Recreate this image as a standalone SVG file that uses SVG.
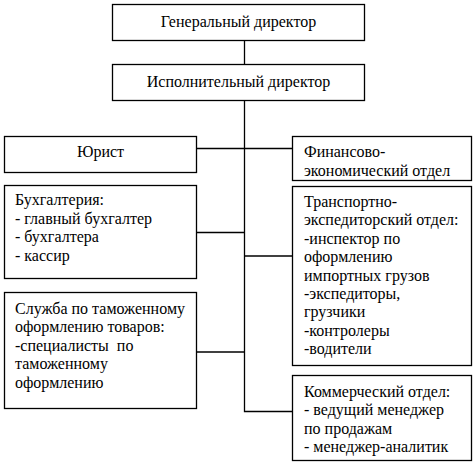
<svg xmlns="http://www.w3.org/2000/svg" width="476" height="465" viewBox="0 0 476 465">
<style>
.box{fill:#fff;stroke:#000;stroke-width:1.3}
.ln{stroke:#000;stroke-width:1.3;fill:none}
.t{font-family:"Liberation Serif","Times New Roman",serif;font-size:16px;fill:#000}
.c{text-anchor:middle}
</style>
<rect width="476" height="465" fill="#fff"/>
<g id="connectors">
<line class="ln" x1="244.5" y1="40" x2="244.5" y2="64"/>
<polyline class="ln" points="244.5,100 244.5,411.5 292.5,411.5"/>
<line class="ln" x1="196.5" y1="148.5" x2="292.5" y2="148.5"/>
<line class="ln" x1="196.5" y1="232.5" x2="244.5" y2="232.5"/>
<line class="ln" x1="244.5" y1="256" x2="292.5" y2="256"/>
<line class="ln" x1="196.5" y1="352" x2="244.5" y2="352"/>
</g>
<g id="gen"><rect class="box" x="112.5" y="4.5" width="252" height="36"/><text class="t c" x="238.5" y="27">Генеральный директор</text></g>
<g id="isp"><rect class="box" x="112.5" y="64.5" width="252" height="36"/><text class="t c" x="238.5" y="87">Исполнительный директор</text></g>
<g id="jur"><rect class="box" x="4.5" y="136.5" width="192" height="36"/><text class="t c" x="100.5" y="157">Юрист</text></g>
<g id="buh"><rect class="box" x="4.5" y="185.5" width="192" height="93"/>
<text class="t" x="15" y="205">Бухгалтерия:</text>
<text class="t" x="15" y="223.5">- главный бухгалтер</text>
<text class="t" x="15" y="242">- бухгалтера</text>
<text class="t" x="15" y="260.5">- кассир</text></g>
<g id="tam"><rect class="box" x="4.5" y="292.5" width="192" height="116"/>
<text class="t" x="15" y="313.5">Служба по таможенному</text>
<text class="t" x="15" y="332">оформлению товаров:</text>
<text class="t" x="15" y="350.5" xml:space="preserve">-специалисты  по</text>
<text class="t" x="15" y="369">таможенному</text>
<text class="t" x="15" y="387.5">оформлению</text></g>
<g id="fin"><rect class="box" x="292.5" y="136.5" width="179" height="44"/>
<text class="t" x="304" y="157">Финансово-</text>
<text class="t" x="304" y="175.5">экономический отдел</text></g>
<g id="trans"><rect class="box" x="292.5" y="186.5" width="179" height="179"/>
<text class="t" x="304" y="207">Транспортно-</text>
<text class="t" x="304" y="225.4">экспедиторский отдел:</text>
<text class="t" x="304" y="243.8">-инспектор по</text>
<text class="t" x="304" y="262.2">оформлению</text>
<text class="t" x="304" y="280.6">импортных грузов</text>
<text class="t" x="304" y="299">-экспедиторы,</text>
<text class="t" x="304" y="317.4">грузчики</text>
<text class="t" x="304" y="335.8">-контролеры</text>
<text class="t" x="304" y="354.2">-водители</text></g>
<g id="kom"><rect class="box" x="292.5" y="375.5" width="179" height="85"/>
<text class="t" x="304" y="397">Коммерческий отдел:</text>
<text class="t" x="304" y="415.4">- ведущий менеджер</text>
<text class="t" x="304" y="433.8">по продажам</text>
<text class="t" x="304" y="452.2">- менеджер-аналитик</text></g>
</svg>
